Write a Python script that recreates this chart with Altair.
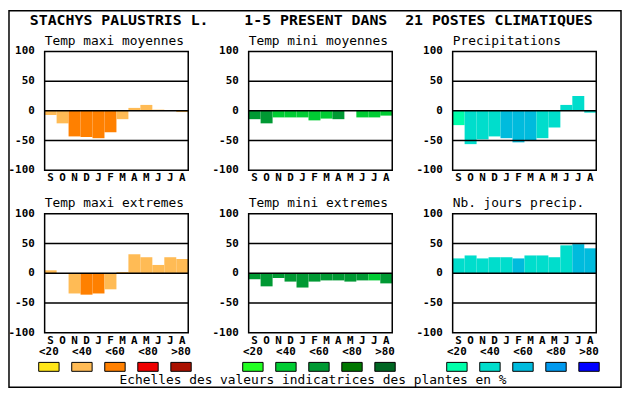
import altair as alt
import pandas as pd

# ---------------- data ----------------
months = ["S", "O", "N", "D", "J", "F", "M", "A", "M", "J", "J", "A"]
classes = ["<20", "<40", "<60", "<80", ">80"]
ytick_vals = [100, 50, 0, -50, -100]
ytick_text = ["100", "50", "0", "-50", "-100"]
grid_vals = [50, 0, -50]

main_title = "STACHYS PALUSTRIS L.\u00a0\u00a0\u00a0\u00a01-5 PRESENT DANS\u00a0\u00a021 POSTES CLIMATIQUES"
caption = "Echelles des valeurs indicatrices des plantes en %"

titles = ["Temp maxi moyennes", "Temp mini moyennes", "Precipitations",
          "Temp maxi extremes", "Temp mini extremes", "Nb. jours precip."]

tmax_moy = [-7, -21, -43, -44, -46, -36, -14, 5, 10, 2, 0, -2]
tmax_moy_cls = [1, 1, 2, 2, 2, 2, 1, 1, 1, 1, 1, 1]
tmin_moy = [-14, -21, -11, -11, -11, -16, -13, -14, 0, -11, -11, -8]
tmin_moy_cls = [2, 2, 1, 1, 1, 1, 1, 2, 1, 1, 1, 1]
precip = [-24, -56, -48, -43, -46, -53, -50, -46, -28, 10, 25, -3]
precip_cls = [0, 1, 1, 1, 2, 2, 2, 1, 1, 1, 1, 1]
tmax_ext = [5, 0, -34, -36, -34, -27, 2, 32, 27, 14, 27, 24]
tmax_ext_cls = [1, 1, 1, 2, 2, 1, 1, 1, 1, 1, 1, 1]
tmin_ext = [-10, -22, -8, -14, -24, -14, -12, -12, -14, -12, -12, -17]
tmin_ext_cls = [2, 2, 2, 2, 2, 2, 2, 2, 2, 2, 1, 2]
nb_jours = [25, 30, 25, 27, 27, 25, 30, 30, 27, 47, 49, 42]
nb_jours_cls = [1, 1, 1, 1, 1, 2, 1, 1, 1, 1, 2, 2]

pal_orange = ["#FFE619", "#FFBB55", "#FF8000", "#EE0000", "#AA1100"]
pal_green = ["#22FF22", "#00CC33", "#009933", "#007700", "#006622"]
pal_blue = ["#00FFAA", "#00DDCC", "#00BBDD", "#0099EE", "#0000FF"]

# ---------------- layout (view pixels) ----------------
W, H = 618, 380
COL_X = [36, 242, 448]
ROW_Y = [41, 205]
PW, PH = 145, 120
MONO = "DejaVu Sans Mono"

panels = [
    (titles[0], tmax_moy, tmax_moy_cls, pal_orange, 0, 0),
    (titles[1], tmin_moy, tmin_moy_cls, pal_green, 1, 0),
    (titles[2], precip, precip_cls, pal_blue, 2, 0),
    (titles[3], tmax_ext, tmax_ext_cls, pal_orange, 0, 1),
    (titles[4], tmin_ext, tmin_ext_cls, pal_green, 1, 1),
    (titles[5], nb_jours, nb_jours_cls, pal_blue, 2, 1),
]


def make_panel(title, vals, cls, pal, c, r):
    xs = alt.Scale(domain=[0, 12], range=[COL_X[c], COL_X[c] + PW], nice=False, zero=False)
    ys = alt.Scale(domain=[-100, 100], range=[ROW_Y[r] + PH, ROW_Y[r]], nice=False, zero=False)
    df = pd.DataFrame({
        "m": months,
        "x0": list(range(12)),
        "x1": [i + 1 for i in range(12)],
        "xc": [i + 0.5 for i in range(12)],
        "v": vals,
        "k": [classes[i] for i in cls],
    })
    bars = alt.Chart(df).mark_rect().encode(
        x=alt.X("x0:Q", scale=xs, axis=None),
        x2="x1:Q",
        y=alt.Y("v:Q", scale=ys, axis=None),
        y2=alt.Y2Datum(0),
        color=alt.Color("k:N", scale=alt.Scale(domain=classes, range=pal), legend=None),
    )
    grid = alt.Chart(pd.DataFrame({"g": grid_vals})).mark_rule(color="black", strokeWidth=1.5).encode(
        y=alt.Y("g:Q", scale=ys, axis=None),
        x=alt.XDatum(0, type="quantitative", scale=xs, axis=None),
        x2=alt.X2Datum(12),
    )
    frame = alt.Chart(alt.InlineData(values=[{"a": 1}])).mark_rect(
        fillOpacity=0, stroke="black", strokeWidth=1.5
    ).encode(
        x=alt.XDatum(0, type="quantitative", scale=xs, axis=None),
        x2=alt.X2Datum(12),
        y=alt.YDatum(-100, type="quantitative", scale=ys, axis=None),
        y2=alt.Y2Datum(100),
    )
    ylab = alt.Chart(pd.DataFrame({"t": ytick_vals, "s": ytick_text})).mark_text(
        align="right", baseline="middle", dx=-10, font=MONO, fontSize=11, fontWeight="bold", color="black"
    ).encode(
        y=alt.Y("t:Q", scale=ys, axis=None),
        x=alt.XDatum(0, type="quantitative", scale=xs, axis=None),
        text="s:N",
    )
    mlab = alt.Chart(df).mark_text(
        align="center", baseline="alphabetic", dy=11, font=MONO, fontSize=11, fontWeight="bold", color="black"
    ).encode(
        x=alt.X("xc:Q", scale=xs, axis=None),
        y=alt.YDatum(-100, type="quantitative", scale=ys, axis=None),
        text="m:N",
    )
    ttl = alt.Chart(alt.InlineData(values=[{"t": title}])).mark_text(
        align="left", baseline="alphabetic", dy=-7, font=MONO, fontSize=13, color="black"
    ).encode(
        x=alt.XDatum(0, type="quantitative", scale=xs, axis=None),
        y=alt.YDatum(100, type="quantitative", scale=ys, axis=None),
        text="t:N",
    )
    return alt.layer(bars, grid, frame, ylab, mlab, ttl)


def make_legend(pal, c):
    ls = alt.Scale(type="band", domain=classes, range=[COL_X[c] - 6, COL_X[c] + 148],
                   paddingInner=0.383, paddingOuter=0)
    ld = pd.DataFrame({"k": classes})
    boxes = alt.Chart(ld).mark_rect(stroke="black", strokeWidth=1).encode(
        x=alt.X("k:N", scale=ls, axis=None),
        y=alt.value(355),
        y2=alt.value(364),
        color=alt.Color("k:N", scale=alt.Scale(domain=classes, range=pal), legend=None),
    )
    labs = alt.Chart(ld).mark_text(
        align="center", baseline="alphabetic", font=MONO, fontSize=11, fontWeight="bold", color="black"
    ).encode(
        x=alt.X("k:N", scale=ls, axis=None),
        y=alt.value(348),
        text="k:N",
    )
    return alt.layer(boxes, labs)


children = [make_panel(*p) for p in panels]
children += [make_legend(pal_orange, 0), make_legend(pal_green, 1), make_legend(pal_blue, 2)]

head = alt.Chart(alt.InlineData(values=[{"t": main_title}])).mark_text(
    align="left", baseline="alphabetic", font=MONO, fontSize=15, fontWeight="bold", color="black"
).encode(x=alt.value(21), y=alt.value(14), text="t:N")
foot = alt.Chart(alt.InlineData(values=[{"t": caption}])).mark_text(
    align="center", baseline="alphabetic", font=MONO, fontSize=13, color="black"
).encode(x=alt.value(307), y=alt.value(377), text="t:N")
children += [head, foot]

chart = alt.layer(*children).resolve_scale(
    x="independent", y="independent", color="independent"
).properties(
    width=W, height=H,
    padding={"left": 1, "top": 1, "right": 1, "bottom": 1},
    autosize=alt.AutoSizeParams(type="none"),
    background="white",
).configure_view(stroke="black", strokeWidth=1.5)

chart.save("out.html", embed_options={"renderer": "svg", "actions": False})
